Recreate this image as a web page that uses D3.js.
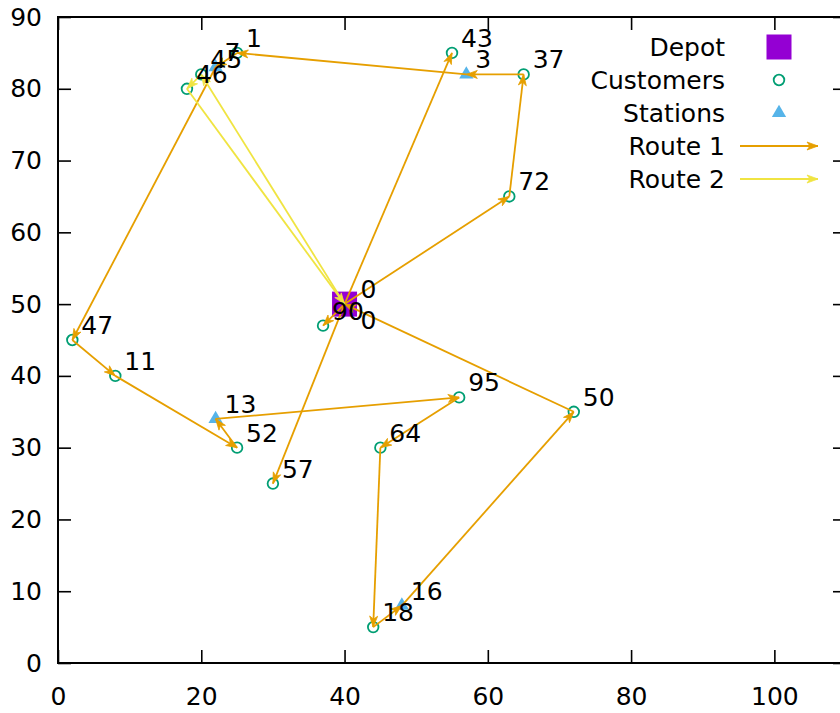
<!DOCTYPE html>
<html>
<head>
<meta charset="utf-8">
<script src="https://cdn.jsdelivr.net/npm/d3@7"></script>
<style>
  html, body { margin: 0; padding: 0; background: #fff; }
  svg { display: block; font-family: "DejaVu Sans", sans-serif; }
</style>
</head>
<body>
<svg id="chart" width="840" height="713"></svg>
<script>
// ---- data ----
const depotIds = ["0"];
const depotX = [40];
const depotY = [50];

const customerIds = ["1", "43", "37", "72", "46", "45", "47", "11", "52", "57", "95", "64", "50", "18", "90"];
const customerX   = [25,   55,   65,   63,   18,   20,   2,    8,    25,   30,   56,   45,   72,   44,   37];
const customerY   = [85,   85,   82,   65,   80,   82,   45,   40,   30,   25,   37,   30,   35,   5,    47];

const stationIds = ["3", "7", "13", "16"];
const stationX   = [57,  22,  22,   48];
const stationY   = [82,  83,  34,   8];

// vehicle routes as node sequences
const route1Trips = [
  ["0", "72", "37", "3", "1", "7", "47", "11", "52", "13", "95", "64", "18", "16", "50", "0"],
  ["0", "90"],
  ["0", "43"],
  ["0", "57"]
];
const route2Trips = [
  ["0", "45", "46", "0"]
];

const xTickValues = [0, 20, 40, 60, 80, 100];
const yTickValues = [0, 10, 20, 30, 40, 50, 60, 70, 80, 90];
const legendLabels = ["Depot", "Customers", "Stations", "Route 1", "Route 2"];

// ---- styling ----
const COLORS = {
  depot: "#9400d3",
  customer: "#009e73",
  station: "#56b4e9",
  route1: "#e69f00",
  route2: "#f0e442"
};
const FONT = 25;

const svg = d3.select("#chart");
const x = d3.scaleLinear().domain([0, 110]).range([58, 846]);
const y = d3.scaleLinear().domain([0, 90]).range([663, 17]);

// node lookup
const nodes = new Map();
depotIds.forEach((id, i) => nodes.set(id, { id, x: depotX[i], y: depotY[i], kind: "depot" }));
customerIds.forEach((id, i) => nodes.set(id, { id, x: customerX[i], y: customerY[i], kind: "customer" }));
stationIds.forEach((id, i) => nodes.set(id, { id, x: stationX[i], y: stationY[i], kind: "station" }));

const plot = svg.append("g");

// clip to the plotting frame
svg.append("defs").append("clipPath").attr("id", "frame")
  .append("rect").attr("x", x(0)).attr("y", y(90))
  .attr("width", x(110) - x(0)).attr("height", y(0) - y(90));
plot.attr("clip-path", "url(#frame)");

const triangle = d3.symbol().type(d3.symbolTriangle).size(88);

// depot
plot.selectAll("rect.depot")
  .data(depotIds.map(id => nodes.get(id)))
  .join("rect")
  .attr("class", "depot")
  .attr("x", d => x(d.x) - 12.5)
  .attr("y", d => y(d.y) - 12.5)
  .attr("width", 25).attr("height", 25)
  .attr("fill", COLORS.depot);

// customers
plot.selectAll("circle.customer")
  .data(customerIds.map(id => nodes.get(id)))
  .join("circle")
  .attr("class", "customer")
  .attr("cx", d => x(d.x)).attr("cy", d => y(d.y))
  .attr("r", 5.3)
  .attr("fill", "none")
  .attr("stroke", COLORS.customer)
  .attr("stroke-width", 1.8);

// stations
plot.selectAll("path.station")
  .data(stationIds.map(id => nodes.get(id)))
  .join("path")
  .attr("class", "station")
  .attr("transform", d => `translate(${x(d.x)},${y(d.y)})`)
  .attr("d", triangle)
  .attr("fill", COLORS.station);

// arrow helper: filled head ending at (x2, y2)
function headPath(x1, y1, x2, y2, len = 11, half = 4, notch = 8) {
  const a = Math.atan2(y2 - y1, x2 - x1);
  const c = Math.cos(a), s = Math.sin(a);
  const p = d3.path();
  p.moveTo(x2, y2);
  p.lineTo(x2 - len * c + half * s, y2 - len * s - half * c);
  p.lineTo(x2 - notch * c, y2 - notch * s);
  p.lineTo(x2 - len * c - half * s, y2 - len * s + half * c);
  p.closePath();
  return p.toString();
}

function drawRoute(trips, color) {
  const legs = [];
  trips.forEach(trip => {
    for (let i = 0; i < trip.length - 1; i++) {
      legs.push([nodes.get(trip[i]), nodes.get(trip[i + 1])]);
    }
  });
  const g = plot.append("g");
  g.selectAll("line")
    .data(legs)
    .join("line")
    .attr("x1", d => x(d[0].x)).attr("y1", d => y(d[0].y))
    .attr("x2", d => x(d[1].x)).attr("y2", d => y(d[1].y))
    .attr("stroke", color)
    .attr("stroke-width", 1.8);
  g.selectAll("path")
    .data(legs)
    .join("path")
    .attr("d", d => headPath(x(d[0].x), y(d[0].y), x(d[1].x), y(d[1].y)))
    .attr("fill", color)
    .attr("stroke", color)
    .attr("stroke-width", 0.8);
}

drawRoute(route1Trips, COLORS.route1);
drawRoute(route2Trips, COLORS.route2);

// node labels
const labelled = [...customerIds, ...stationIds].map(id => nodes.get(id));
const labels = svg.append("g")
  .attr("font-size", FONT)
  .attr("fill", "#000");
labels.selectAll("text.node")
  .data(labelled)
  .join("text")
  .attr("class", "node")
  .attr("x", d => x(d.x) + 9)
  .attr("y", d => y(d.y) - 6)
  .text(d => d.id);

// depot is the start and the end of every trip: one label above, one below
const depot = nodes.get("0");
labels.selectAll("text.depot")
  .data([{ n: depot, dy: -6 }, { n: depot, dy: 25 }])
  .join("text")
  .attr("class", "depot")
  .attr("x", d => x(d.n.x) + 16)
  .attr("y", d => y(d.n.y) + d.dy)
  .text(d => d.n.id);

// ---- axes ----
const TICK = 13;
const axes = svg.append("g").attr("font-family", "DejaVu Sans, sans-serif");

const xAxis = axes.append("g")
  .attr("transform", `translate(0,${y(0)})`)
  .call(d3.axisBottom(x).tickValues(xTickValues).tickSizeInner(-TICK).tickSizeOuter(0).tickPadding(24));
const yAxis = axes.append("g")
  .attr("transform", `translate(${x(0)},0)`)
  .call(d3.axisLeft(y).tickValues(yTickValues).tickSizeInner(-TICK).tickSizeOuter(0).tickPadding(16));
const xTop = axes.append("g")
  .attr("transform", `translate(0,${y(90)})`)
  .call(d3.axisTop(x).tickValues(xTickValues).tickSizeInner(-TICK).tickSizeOuter(0).tickFormat(""));
const yRight = axes.append("g")
  .attr("transform", `translate(${x(110)},0)`)
  .call(d3.axisRight(y).tickValues(yTickValues).tickSizeInner(-TICK).tickSizeOuter(0).tickFormat(""));

[xAxis, yAxis, xTop, yRight].forEach(a => {
  a.select(".domain").remove();
  a.selectAll(".tick line").attr("stroke", "#000").attr("stroke-width", 1.6);
  a.selectAll(".tick text").attr("font-size", FONT).attr("fill", "#000")
    .attr("font-family", "DejaVu Sans, sans-serif");
});

// frame
axes.append("rect")
  .attr("x", x(0)).attr("y", y(90))
  .attr("width", x(110) - x(0)).attr("height", y(0) - y(90))
  .attr("fill", "none")
  .attr("stroke", "#000")
  .attr("stroke-width", 2);

// ---- legend ----
const legend = svg.append("g").attr("font-size", FONT);
const rowY = d3.scalePoint().domain(legendLabels).range([47, 179]);
const symX = 779;

legend.selectAll("text")
  .data(legendLabels)
  .join("text")
  .attr("x", 725)
  .attr("y", d => rowY(d) + 9)
  .attr("text-anchor", "end")
  .attr("fill", "#000")
  .text(d => d);

legend.append("rect")
  .attr("x", symX - 12.5).attr("y", rowY("Depot") - 12.5)
  .attr("width", 25).attr("height", 25)
  .attr("fill", COLORS.depot);
legend.append("circle")
  .attr("cx", symX).attr("cy", rowY("Customers"))
  .attr("r", 5.3)
  .attr("fill", "none")
  .attr("stroke", COLORS.customer)
  .attr("stroke-width", 1.8);
legend.append("path")
  .attr("transform", `translate(${symX},${rowY("Stations")})`)
  .attr("d", triangle)
  .attr("fill", COLORS.station);

[["Route 1", COLORS.route1], ["Route 2", COLORS.route2]].forEach(([name, color]) => {
  const yy = rowY(name);
  legend.append("line")
    .attr("x1", 740).attr("x2", 818).attr("y1", yy).attr("y2", yy)
    .attr("stroke", color).attr("stroke-width", 1.8);
  legend.append("path")
    .attr("d", headPath(740, yy, 818, yy))
    .attr("fill", color).attr("stroke", color).attr("stroke-width", 0.8);
});
</script>
</body>
</html>
